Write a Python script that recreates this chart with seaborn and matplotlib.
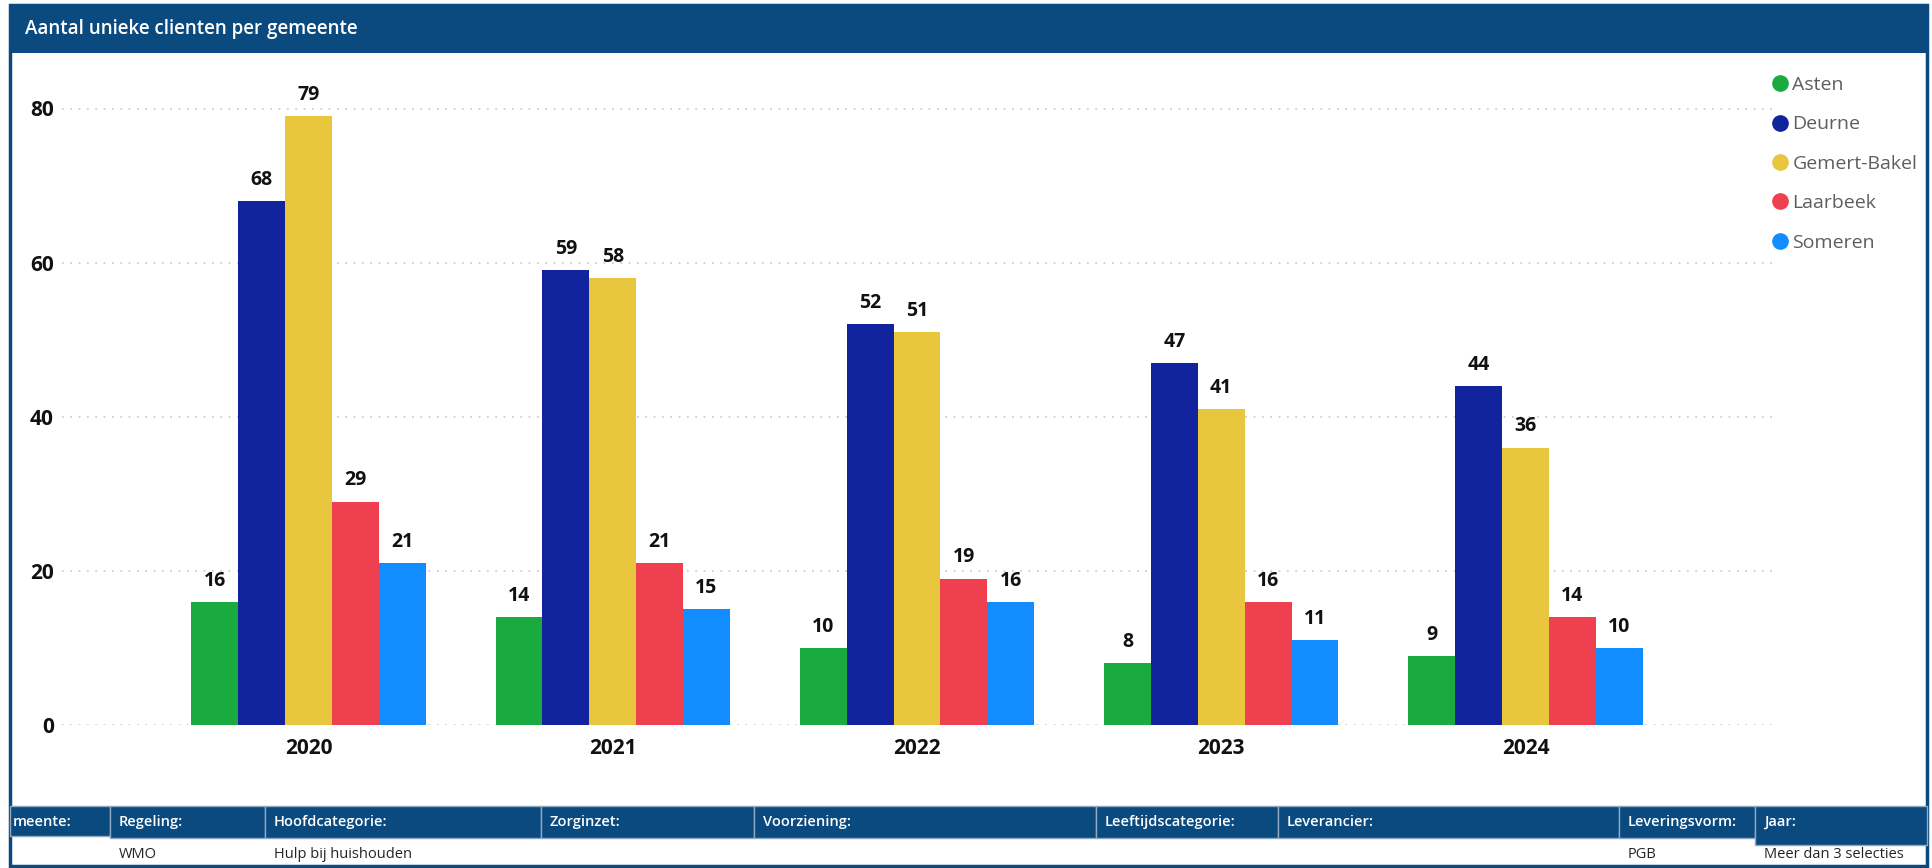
import pandas as pd
import matplotlib.pyplot as plt
import seaborn as sns
from matplotlib.patches import Rectangle
from matplotlib.lines import Line2D

# data
jaren = ['2020', '2021', '2022', '2023', '2024']
gemeenten = ['Asten', 'Deurne', 'Gemert-Bakel', 'Laarbeek', 'Someren']
asten = [16, 14, 10, 8, 9]
deurne = [68, 59, 52, 47, 44]
gemert_bakel = [79, 58, 51, 41, 36]
laarbeek = [29, 21, 19, 16, 14]
someren = [21, 15, 16, 11, 10]
kleuren = ['#1AAB40', '#12239E', '#E8C63E', '#EE404F', '#118DFF']

filter_labels = ['meente:', 'Regeling:', 'Hoofdcategorie:', 'Zorginzet:', 'Voorziening:',
                 'Leeftijdscategorie:', 'Leverancier:', 'Leveringsvorm:', 'Jaar:']
filter_values = ['', 'WMO', 'Hulp bij huishouden', '', '', '', '', 'PGB', 'Meer dan 3 selecties']

rows = []
for g, vals in zip(gemeenten, [asten, deurne, gemert_bakel, laarbeek, someren]):
    for j, v in zip(jaren, vals):
        rows.append({'Jaar': j, 'Gemeente': g, 'Aantal': v})
df = pd.DataFrame(rows)

sns.set_style('white')
plt.rcParams['font.family'] = ['Open Sans', 'DejaVu Sans']

W, H = 1933, 868
fig = plt.figure(figsize=(W / 100, H / 100), dpi=100)
donker = '#0A4A7F'

def fx(x):
    return x / W

def fy(y):
    return 1 - y / H

# card border + title bar
fig.patches.append(Rectangle((fx(10), fy(866)), fx(1917), (866 - 5) / H, transform=fig.transFigure,
                             facecolor='white', edgecolor=donker, linewidth=2.5, zorder=-5))
fig.patches.append(Rectangle((fx(10), fy(53)), fx(1917), 48 / H, transform=fig.transFigure,
                             facecolor=donker, edgecolor='none', zorder=1))
fig.text(fx(25), fy(29), 'Aantal unieke clienten per gemeente', color='white', fontsize=13.5,
         fontweight='semibold', va='center', ha='left')

# chart
ax = fig.add_axes([fx(62), fy(725), fx(1775 - 62), 85 * (725 - 108.5) / 80 / H])
ax.set_facecolor('none')
sns.barplot(data=df, x='Jaar', y='Aantal', hue='Gemeente', palette=kleuren, width=0.77,
            saturation=1, linewidth=0, ax=ax)
ax.set_ylim(0, 85)
ax.set_xlim(-0.81, 4.82)
ax.set_yticks([0, 20, 40, 60, 80])
ax.set_xlabel('')
ax.set_ylabel('')
for s in ax.spines.values():
    s.set_visible(False)
ax.grid(axis='y', linestyle=(0, (1, 4)), color='#C8C8C8', linewidth=1.2)
ax.set_axisbelow(True)
ax.tick_params(axis='both', length=0)
ax.tick_params(axis='y', pad=6)
ax.tick_params(axis='x', pad=9)
for lab in ax.get_yticklabels() + ax.get_xticklabels():
    lab.set_fontweight('bold')
    lab.set_fontsize(15)
    lab.set_color('#111111')
for c in ax.containers:
    ax.bar_label(c, padding=8, fontsize=14, fontweight='bold', color='#111111')

ax.get_legend().remove()
handles = [Line2D([], [], marker='o', linestyle='none', markersize=11, color=k) for k in kleuren]
fig.legend(handles, gemeenten, loc='upper left', bbox_to_anchor=(fx(1772), fy(76)), frameon=False,
           fontsize=14, labelcolor='#605E5C', handlelength=0.8, handletextpad=0.25,
           labelspacing=1.1, borderpad=0, borderaxespad=0)

# filter bar
kol_start = [10, 110, 265, 541, 754, 1096, 1278, 1619, 1755, 1927]
for i, (lab, val) in enumerate(zip(filter_labels, filter_values)):
    x0, x1 = kol_start[i], kol_start[i + 1]
    y1 = 838
    if i == 0:
        y1 = 836
    if i == len(filter_labels) - 1:
        y1 = 845
    fig.patches.append(Rectangle((fx(x0), fy(y1)), fx(x1 - x0), (y1 - 806) / H, transform=fig.transFigure,
                                 facecolor=donker, edgecolor='#8FA8C2', linewidth=1, zorder=1))
    tx = x0 + 3 if i == 0 else x0 + 9
    fig.text(fx(tx), fy(822), lab, color='white', fontsize=10.5, fontweight='semibold', va='center')
    if val:
        fig.text(fx(tx), fy(855), val, color='#252423', fontsize=10.5, va='center')

fig.savefig('out.png', dpi=100)
